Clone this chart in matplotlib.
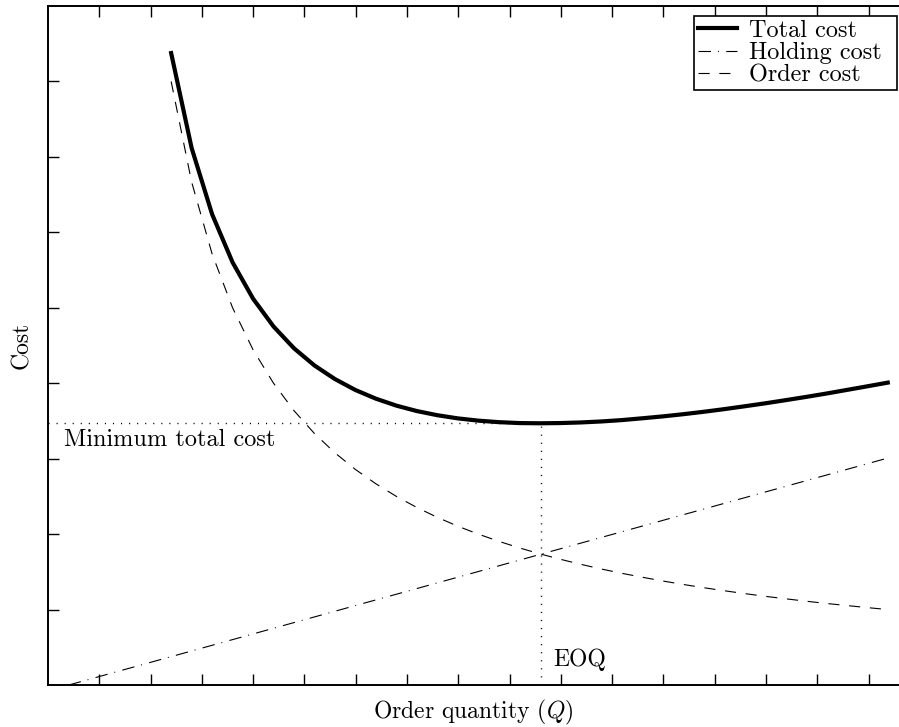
import numpy as np
import matplotlib
matplotlib.use("Agg")
import matplotlib.pyplot as plt

matplotlib.rcParams['font.family'] = "cmr10"
matplotlib.rcParams['mathtext.fontset'] = "cm"
matplotlib.rcParams['axes.formatter.use_mathtext'] = True
matplotlib.rcParams['lines.scale_dashes'] = False
matplotlib.rcParams['font.size'] = 17

# order quantity grid and the three cost curves
q = [2.0, 2.4, 2.8, 3.2, 3.6, 4.0, 4.4, 4.8, 5.2, 5.6, 6.0, 6.4, 6.8, 7.2, 7.6, 8.0, 8.4, 8.8,
     9.2, 9.6, 10.0, 10.4, 10.8, 11.2, 11.6, 12.0, 12.4, 12.8, 13.2, 13.6, 14.0, 14.4, 14.8, 15.2, 15.6, 16.0]
order_cost = [8.000, 6.667, 5.714, 5.000, 4.444, 4.000, 3.636, 3.333, 3.077, 2.857, 2.667, 2.500,
              2.353, 2.222, 2.105, 2.000, 1.905, 1.818, 1.739, 1.667, 1.600, 1.538, 1.481, 1.429,
              1.379, 1.333, 1.290, 1.250, 1.212, 1.176, 1.143, 1.111, 1.081, 1.053, 1.026, 1.000]
total_cost = [8.376, 7.118, 6.240, 5.602, 5.121, 4.752, 4.463, 4.235, 4.055, 3.910, 3.795, 3.703,
              3.631, 3.576, 3.534, 3.504, 3.484, 3.472, 3.469, 3.472, 3.480, 3.493, 3.511, 3.535,
              3.560, 3.589, 3.621, 3.656, 3.694, 3.733, 3.775, 3.818, 3.863, 3.911, 3.959, 4.008]
q_hold = [0.0, 16.0]
holding_cost = [0.0, 3.008]

eoq = 9.22
min_cost = 3.469

xmin, xmax = -0.406, 16.2
ymin, ymax = 0.0, 9.0

fig = plt.figure(figsize=(8.99, 7.27), dpi=100)
ax = fig.add_axes([48 / 899, 42 / 727, 850 / 899, 679 / 727])

ax.plot(q, total_cost, '-', color='black', lw=3.0, label='Total cost')
ax.plot(q_hold, holding_cost, color='black', lw=0.8, dashes=(9, 5, 0.7, 5.3), label='Holding cost')
ax.plot(q, order_cost, color='black', lw=0.8, dashes=(8, 7), label='Order cost')

# guide lines to the minimum
ax.plot([xmin, eoq], [min_cost, min_cost], color='black', lw=1.0, dashes=(0.8, 5))
ax.plot([eoq, eoq], [ymin, min_cost], color='black', lw=1.0, dashes=(0.8, 5))
ax.text(-0.09, 3.25, 'Minimum total cost', va='center', ha='left', fontsize=17.5)
ax.text(9.46, 0.33, 'EOQ', va='center', ha='left')

ax.set_xlim(xmin, xmax)
ax.set_ylim(ymin, ymax)
ax.set_xticks(xmin + np.arange(1, 17) * 1.002)
ax.set_yticks(np.arange(1, 9))
ax.tick_params(direction='in', length=8, width=1.0, top=True, right=False,
               labelbottom=False, labelleft=False)
for s in ax.spines.values():
    s.set_linewidth(1.4)
ax.spines['right'].set_visible(False)

ax.set_xlabel('Order quantity ($Q$)', labelpad=9)
ax.set_ylabel('Cost', labelpad=11)

leg = ax.legend(loc='upper left', bbox_to_anchor=(0.760, 0.0, 0.2388, 0.985), mode='expand',
                borderaxespad=0, fancybox=False, framealpha=1, edgecolor='black', borderpad=0.15,
                labelspacing=0.0, handlelength=1.6, handletextpad=0.5, fontsize=17.5)
leg.get_frame().set_linewidth(1.2)

plt.savefig("out.png", dpi=100)
